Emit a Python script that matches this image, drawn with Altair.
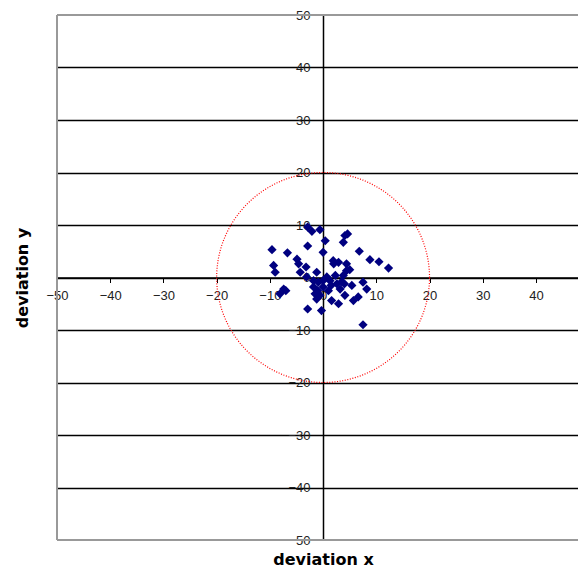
import altair as alt
import numpy as np
import pandas as pd

# deviations
dev_x = [-2.9, -2.1, -0.6, 0.4, 4.6, 3.8, 4.1, -9.6, -6.7, -2.9, 0.0, 6.8, 8.8, 10.5,
         12.3, -4.9, -9.3, -9.0, -4.6, -3.2, -1.2, 1.9, 2.9, 4.4, 2.0, 5.0, -4.3, -3.1,
         -1.8, 0.0, 0.7, 2.3, 3.8, 4.4, -7.4, -8.1, -7.0, -1.8, -1.5, -1.2, 0.0, 1.0,
         1.6, 2.9, 3.2, 4.1, 5.7, 6.6, 7.5, 8.2, 5.4, 3.5, 1.5, 4.0, -1.0, -2.9, -0.3,
         7.5, 1.3, 2.6, -0.6, -0.9]
dev_y = [9.6, 8.8, 9.1, 7.0, 8.3, 6.7, 8.0, 5.3, 4.7, 6.0, 4.8, 5.0, 3.4, 3.0,
         1.8, 3.5, 2.3, 1.0, 2.6, 2.0, 1.0, 3.2, 2.9, 2.6, 2.6, 1.5, 1.0, 0.1,
         -0.6, -0.6, 0.1, 0.4, 0.4, 1.3, -2.2, -3.1, -2.5, -1.8, -3.1, -4.1, -1.8, -2.5,
         -4.4, -5.0, -2.2, -3.4, -4.4, -3.7, -0.9, -2.2, -1.5, -0.8, -1.5, -1.2, -2.5, -6.0, -6.3,
         -9.0, -0.6, -1.2, -3.4, -0.9]
circle_radius = 20
tick_values = [-50, -40, -30, -20, -10, 0, 10, 20, 30, 40, 50]
axis_min, axis_max = -50, 50
x_visible_max = 47.9  # the reference is cut off at its right edge

W, H = 521, 525
x_zero_px = 266  # pixel position of x = 0 inside the plot
y_zero_px = H / 2

pts = pd.DataFrame({"x": dev_x, "y": dev_y})
theta = np.linspace(0, 2 * np.pi, 721)
circ = pd.DataFrame({
    "x": circle_radius * np.cos(theta),
    "y": circle_radius * np.sin(theta),
    "i": np.arange(len(theta)),
})
border_v = pd.DataFrame({"x": [axis_min], "y": [axis_min], "y2": [axis_max]})
border_h = pd.DataFrame({"y": [axis_min, axis_max], "x": [axis_min, axis_min],
                         "x2": [x_visible_max, x_visible_max]})

xscale = alt.Scale(domain=[axis_min, x_visible_max], nice=False, zero=False)
yscale = alt.Scale(domain=[axis_min, axis_max], nice=False, zero=False)

LABEL_FONT = "Liberation Sans"
TITLE_FONT = "DejaVu Sans"

xaxis = alt.Axis(
    values=tick_values, offset=-y_zero_px, grid=False,
    domainColor="black", domainWidth=1.5,
    tickColor="black", tickSize=5, tickWidth=1,
    labelPadding=7, labelFont=LABEL_FONT, labelFontSize=13, labelColor="#222222",
    labelFlush=False, labelOverlap=False,
    title="deviation x", titleFont=TITLE_FONT, titleFontSize=16, titleFontWeight="bold",
    titleColor="black", titleBaseline="middle", titleX=x_zero_px, titleY=282,
)
yaxis = alt.Axis(
    values=tick_values, offset=-x_zero_px, grid=True,
    gridColor="black", gridWidth=1.5,
    gridOpacity=alt.condition("abs(datum.value) == 50", alt.value(0), alt.value(1)),
    domainColor="black", domainWidth=1.5,
    tickColor="black", tickSize=4, tickWidth=1,
    labelPadding=9, labelFont=LABEL_FONT, labelFontSize=13, labelColor="#222222",
    labelFlush=False, labelOverlap=False,
    title="deviation y", titleFont=TITLE_FONT, titleFontSize=16, titleFontWeight="bold",
    titleColor="black", titleBaseline="middle", titleAngle=270,
    titleX=-x_zero_px - 35, titleY=H / 2,
)

bv = alt.Chart(border_v).mark_rule(color="#999999", strokeWidth=2).encode(
    x=alt.X("x:Q", scale=xscale, axis=xaxis),
    y=alt.Y("y:Q", scale=yscale, axis=yaxis),
    y2="y2:Q",
)
bh = alt.Chart(border_h).mark_rule(color="#999999", strokeWidth=2).encode(
    x=alt.X("x:Q", scale=xscale),
    x2="x2:Q",
    y=alt.Y("y:Q", scale=yscale),
)

circle = alt.Chart(circ).mark_line(
    color="#ff0000", strokeWidth=1.2, strokeDash=[1, 1.6]
).encode(
    x=alt.X("x:Q", scale=xscale),
    y=alt.Y("y:Q", scale=yscale),
    order="i:Q",
)

points = alt.Chart(pts).mark_point(
    shape="diamond", filled=True, size=85, color="#000080", opacity=1
).encode(
    x=alt.X("x:Q", scale=xscale),
    y=alt.Y("y:Q", scale=yscale),
)

chart = alt.layer(bv, bh, circle, points).properties(
    width=W, height=H,
    autosize=alt.AutoSizeParams(type="none"),
    padding={"left": 49, "top": 7, "right": 0, "bottom": 32},
    background="white",
).configure_view(
    stroke=None
)

chart.save("out.html", embed_options={"renderer": "svg", "actions": False})
